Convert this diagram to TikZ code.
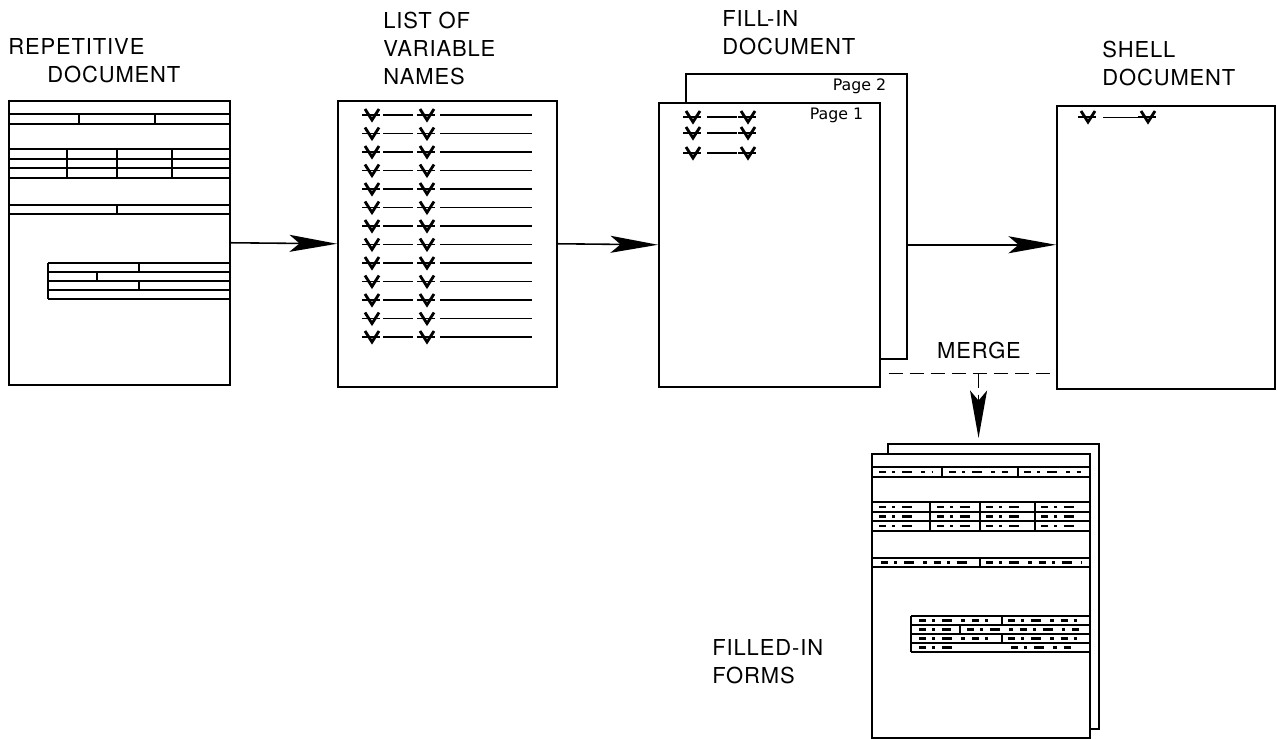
\documentclass[tikz,border=0pt]{standalone}
\usepackage{fontspec}
\setmainfont[LetterSpace=4]{TeX Gyre Heros}
\newfontfamily\pagefont{DejaVu Sans}
\usetikzlibrary{arrows.meta, positioning, calc}

\tikzset{
  pics/vmark/.style={code={
    \draw[line width=1.6pt] (-7,-6) -- (0,5) -- (7,-6);
    \draw[line width=0.8pt] (-10,0) -- (8,0);
  }},
  pics/formrules/.style={code={
    \foreach \ry in {14,24,49,59,68,78,105,114} \draw[line width=0.6pt] (0,\ry) -- (#1,\ry);
    \foreach \rx in {71,147} \draw[line width=0.6pt] (\rx,14) -- (\rx,24);
    \foreach \rx in {59,109,164} \draw[line width=0.6pt] (\rx,49) -- (\rx,78);
    \draw[line width=0.6pt] (109,105) -- (109,114);
    \foreach \ry in {163,172,181,190,199} \draw[line width=0.6pt] (40,\ry) -- (#1,\ry);
    \draw[line width=0.6pt] (40,163) -- (40,199) (131,163) -- (131,172) (89,172) -- (89,181) (131,181) -- (131,190);
  }},
  pics/formfill/.style={code={
    \foreach \xa/\xb/\ry in {8/62/19, 78/137/19, 153/210/19,
        8/50/54, 66/99/54, 115/154/54, 170/210/54,
        8/50/63.5, 66/99/63.5, 115/154/63.5, 170/210/63.5,
        8/50/73, 66/99/73, 115/154/73, 170/210/73,
        10/99/109.5, 115/210/109.5,
        48/121/167.5, 137/210/167.5, 48/80/176.5, 96/210/176.5,
        48/121/185.5, 137/210/185.5, 48/90/194.5, 140/200/194.5}
      \draw[line width=1.6pt, dash pattern=on 4pt off 3.5pt on 1.5pt off 4pt on 6pt off 5pt on 2pt off 4pt] (\xa,\ry) -- (\xb,\ry);
  }}
}

\begin{document}
\begin{tikzpicture}[x=0.02cm, y=-0.02cm,
    docpage/.style={draw, line width=0.9pt, fill=white, anchor=north west, inner sep=0pt},
    heading/.style={font=\fontsize{12.5}{16}\selectfont, align=left, inner sep=0pt, anchor=south west},
    pagelbl/.style={font=\pagefont\fontsize{9}{10}\selectfont, inner sep=0pt, anchor=north east},
    flow/.style={line width=0.9pt, -{Stealth[length=0.95cm, width=0.34cm, inset=0.2cm]}},
    mergeline/.style={line width=0.9pt, dash pattern=on 8pt off 4pt},
    rule/.style={line width=0.7pt}
]
\useasboundingbox (0,0) rectangle (1277,738);

% headings
\node[heading] (replbl) at (8,83) {REPETITIVE\\\hspace*{0.78cm}DOCUMENT};
\node[heading] (listlbl) at (383,85) {LIST OF\\VARIABLE\\NAMES};
\node[heading] (filllbl) at (722,55) {FILL-IN\\DOCUMENT};
\node[heading] (shelllbl) at (1102,86) {SHELL\\DOCUMENT};
\node[heading] (formslbl) at (712,684) {FILLED-IN\\FORMS};

% repetitive document
\node[docpage, minimum width=4.42cm, minimum height=5.68cm] (rep) at (8,100) {};
\pic at (rep.north west) {formrules=221};

% list of variable names
\node[docpage, minimum width=4.38cm, minimum height=5.72cm] (list) at (337,100) {};
\begin{scope}[shift={(list.north west)}]
  \foreach \i in {0,...,12} {
    \pgfmathsetmacro\ry{15+18.5*\i}
    \pic at (35,\ry) {vmark};
    \draw[rule] (46,\ry) -- (76,\ry);
    \pic at (90,\ry) {vmark};
    \draw[rule] (103,\ry) -- (195,\ry);
  }
\end{scope}

% fill-in document
\node[docpage, minimum width=4.42cm, minimum height=5.70cm] (page2) at (685,73) {};
\node[docpage, minimum width=4.42cm, minimum height=5.68cm] (page1) at (658,102) {};
\node[pagelbl] (p2lbl) at ([xshift=-0.42cm, yshift=-0.11cm]page2.north east) {Page 2};
\node[pagelbl] (p1lbl) at ([xshift=-0.34cm, yshift=-0.11cm]page1.north east) {Page 1};
\begin{scope}[shift={(page1.north west)}]
  \foreach \ry in {15,31,51} {
    \pic at (35,\ry) {vmark};
    \draw[rule] (49,\ry) -- (79,\ry);
    \pic at (90,\ry) {vmark};
  }
\end{scope}

% shell document
\node[docpage, minimum width=4.36cm, minimum height=5.66cm] (shell) at (1056,105) {};
\begin{scope}[shift={(shell.north west)}]
  \pic at (32,12) {vmark};
  \draw[line width=0.4pt] (47,12) -- (84,12);
  \pic at (92,12) {vmark};
\end{scope}

% filled-in forms
\node[docpage, minimum width=4.22cm, minimum height=5.70cm] (back) at (887,443) {};
\node[docpage, minimum width=4.36cm, minimum height=5.68cm] (front) at (871,453) {};
\pic at (front.north west) {formrules=218};
\pic at (front.north west) {formfill};

% arrows
\draw[flow] (rep.east) -- (list.west);
\draw[flow] (list.east) -- (page1.west);
\draw[flow] (page1.east -| page2.east) -- (shell.west |- page1.east);

% merge
\coordinate (mergeL) at ($(page1.south east)+(8,-14)$);
\coordinate (mergeR) at (mergeL -| shell.west);
\coordinate (mergeM) at ($(mergeL)+(90,0)$);
\draw[mergeline] (mergeL) -- ([xshift=-0.08cm]mergeR);
\draw[mergeline, flow] (mergeM) -- ([yshift=0.1cm]mergeM |- back.north);
\node[font=\fontsize{12.5}{16}\selectfont, inner sep=0pt] (mergelbl) at (979,350) {MERGE};
\end{tikzpicture}
\end{document}
